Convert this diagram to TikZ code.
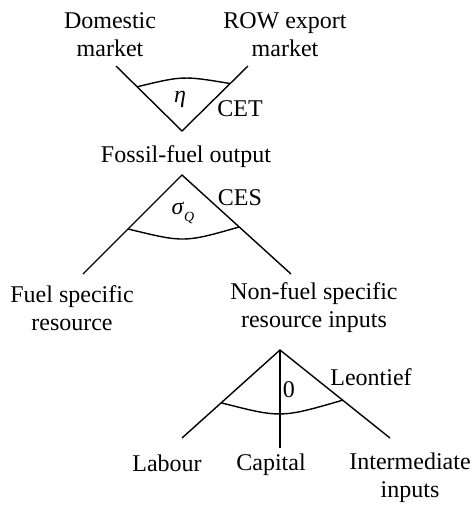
\documentclass[tikz,border=0pt]{standalone}
\usepackage{fontspec}
\setmainfont{Liberation Serif}
\usetikzlibrary{calc}

\begin{document}
\begin{tikzpicture}[x=0.5pt, y=-0.5pt, font=\fontsize{12}{14}\selectfont,
    lab/.style={align=center, inner sep=0pt},
    ramo/.style={line width=0.7pt}]
  \useasboundingbox (0,0) rectangle (474,505);
  % livello CET (mercati)
  \coordinate (cetA) at (182,131);
  \coordinate (cetL) at (116,66);
  \coordinate (cetR) at (248,66);
  \draw[ramo] (cetL) -- (cetA) -- (cetR);
  \coordinate (cetAl) at ($(cetA)!0.68!(cetL)$);
  \coordinate (cetAr) at ($(cetA)!0.73!(cetR)$);
  \draw[ramo] (cetAl) .. controls (183,75.7) .. (cetAr);
  \node[lab] (dom) at (110,35) {Domestic\\market};
  \node[lab] (row) at (285,35) {ROW export\\market};
  \node[lab] (eta) at (180,99) {\textit{η}};
  \node[lab] (cet) at (240,109) {CET};
  \node[lab] (fos) at (186,157) {Fossil-fuel output};
  % livello CES (risorsa)
  \coordinate (cesA) at (182,175);
  \coordinate (cesL) at (83,274);
  \coordinate (cesR) at (291,274);
  \draw[ramo] (cesL) -- (cesA) -- (cesR);
  \coordinate (cesAl) at ($(cesA)!0.545!(cesL)$);
  \coordinate (cesAr) at ($(cesA)!0.525!(cesR)$);
  \draw[ramo] (cesAl) .. controls (184,242.7) .. (cesAr);
  \node[lab] (sig) at (183,213) {\textit{σ}\raisebox{-0.6ex}{\fontsize{7}{8}\selectfont\textit{Q}}};
  \node[lab] (ces) at (240,198) {CES};
  \node[lab] (fuel) at (72,308) {Fuel specific\\resource};
  \node[lab] (nonf) at (314,308) {Non-fuel specific\\resource inputs};
  % livello Leontief (tre input)
  \coordinate (leoA) at (280,350);
  \coordinate (leoL) at (182,438);
  \coordinate (leoC) at (280,448);
  \coordinate (leoR) at (390,438);
  \draw[ramo] (leoL) -- (leoA) -- (leoR);
  \draw[ramo] (leoA) -- (leoC);
  \coordinate (leoAl) at ($(leoA)!0.60!(leoL)$);
  \coordinate (leoAr) at ($(leoA)!0.57!(leoR)$);
  \draw[ramo] (leoAl) .. controls (281,418.1) .. (leoAr);
  \node[lab] (zero) at (289,390) {0};
  \node[lab] (leo) at (371,377) {Leontief};
  \node[lab] (lab) at (167,463) {Labour};
  \node[lab] (cap) at (271,465) {Capital};
  \node[lab] (int) at (410,478) {Intermediate\\inputs};
\end{tikzpicture}
\end{document}
